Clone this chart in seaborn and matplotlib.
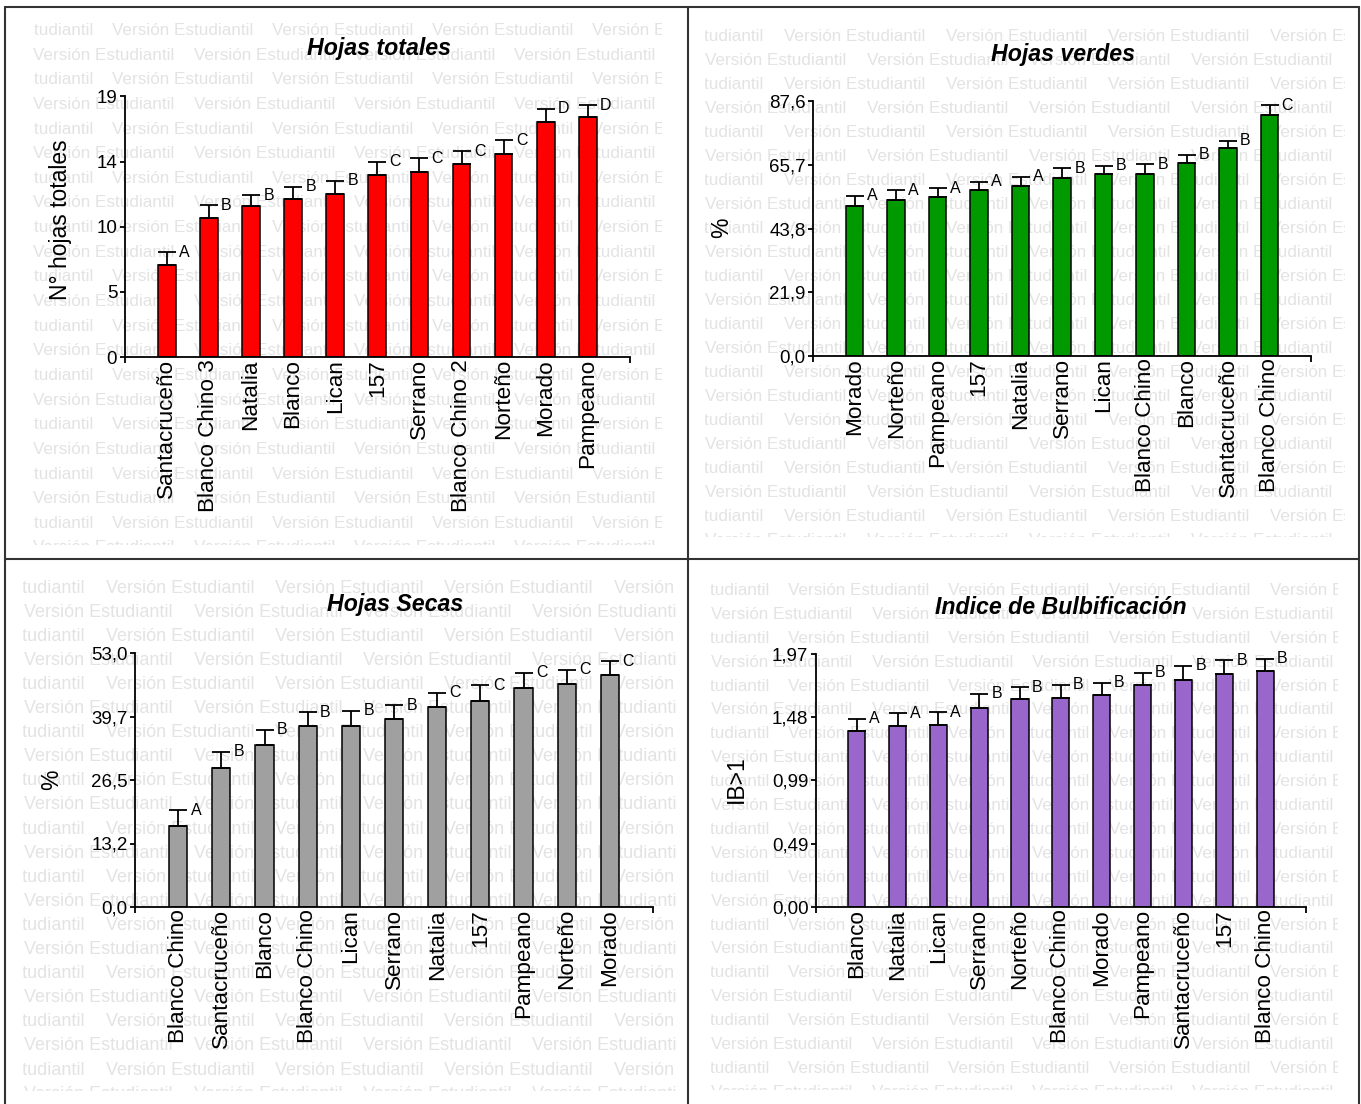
import numpy as np
import pandas as pd
import matplotlib
matplotlib.use("Agg")
import matplotlib.pyplot as plt
from matplotlib.lines import Line2D
import seaborn as sns

# ---------------------------------------------------------------- data
# Hojas totales (N° hojas)
tot_labels = ["Santacruceño", "Blanco Chino 3", "Natalia", "Blanco", "Lican", "157",
              "Serrano", "Blanco Chino 2", "Norteño", "Morado", "Pampeano"]
tot_mean = [6.7, 10.1, 11.0, 11.5, 11.9, 13.3, 13.5, 14.1, 14.8, 17.1, 17.5]
tot_se = [0.95, 0.95, 0.8, 0.9, 0.95, 0.95, 1.0, 0.9, 1.0, 1.0, 0.85]
tot_letters = ["A", "B", "B", "B", "B", "C", "C", "C", "C", "D", "D"]
tot_ticks = ["0", "5", "10", "14", "19"]
tot_ymax = 19.0

# Hojas verdes (%)
ver_labels = ["Morado", "Norteño", "Pampeano", "157", "Natalia", "Serrano", "Lican",
              "Blanco Chino", "Blanco", "Santacruceño", "Blanco Chino"]
ver_mean = [51.6, 53.7, 54.7, 57.1, 58.5, 61.0, 62.4, 62.4, 66.4, 71.3, 82.8]
ver_se = [3.5, 3.3, 3.0, 2.8, 3.0, 3.5, 3.0, 3.4, 2.8, 2.7, 3.4]
ver_letters = ["A", "A", "A", "A", "A", "B", "B", "B", "B", "B", "C"]
ver_ticks = ["0,0", "21,9", "43,8", "65,7", "87,6"]
ver_ymax = 87.6

# Hojas secas (%)
sec_labels = ["Blanco Chino", "Santacruceño", "Blanco", "Blanco Chino", "Lican", "Serrano",
              "Natalia", "157", "Pampeano", "Norteño", "Morado"]
sec_mean = [16.9, 29.1, 33.9, 37.7, 37.7, 39.2, 41.8, 43.0, 45.7, 46.6, 48.4]
sec_se = [3.3, 3.3, 3.1, 2.9, 3.2, 2.9, 2.9, 3.3, 3.2, 2.9, 2.9]
sec_letters = ["A", "B", "B", "B", "B", "B", "C", "C", "C", "C", "C"]
sec_ticks = ["0,0", "13,2", "26,5", "39,7", "53,0"]
sec_ymax = 53.0

# Indice de bulbificación (IB>1)
ib_labels = ["Blanco", "Natalia", "Lican", "Serrano", "Norteño", "Blanco Chino", "Morado",
             "Pampeano", "Santacruceño", "157", "Blanco Chino"]
ib_mean = [1.365, 1.409, 1.417, 1.549, 1.616, 1.627, 1.651, 1.724, 1.767, 1.813, 1.835]
ib_se = [0.098, 0.097, 0.099, 0.111, 0.095, 0.100, 0.095, 0.097, 0.111, 0.108, 0.094]
ib_letters = ["A", "A", "A", "B", "B", "B", "B", "B", "B", "B", "B"]
ib_ticks = ["0,00", "0,49", "0,99", "1,48", "1,97"]
ib_ymax = 1.97

# ---------------------------------------------------------------- style
sns.set_theme(style="ticks")
FONT = ["Liberation Sans", "DejaVu Sans"]
plt.rcParams["font.family"] = FONT
plt.rcParams["axes.linewidth"] = 1.3

W, H = 1361, 1104
fig = plt.figure(figsize=(W / 100, H / 100), dpi=100, facecolor="white")


def fx(x):
    return x / W


def fy(y):
    return 1 - y / H


def rect(x0, x1, y_top, y_bot):
    return [fx(x0), fy(y_bot), fx(x1) - fx(x0), fy(y_top) - fy(y_bot)]


# ---------------------------------------------------------------- watermark
WM_TEXT = "Versión Estudiantil"
WM_COLOR = "#e3e3e3"


def watermark(x0, x1, y0, y1, row0, dy, start_even, start_odd, period, size):
    wax = fig.add_axes(rect(x0, x1, y0, y1), zorder=-5)
    wax.set_xlim(x0, x1)
    wax.set_ylim(y1, y0)
    wax.axis("off")
    wax.patch.set_visible(False)
    r = 0
    y = row0
    while y < y1 + dy:
        start = start_even if r % 2 == 0 else start_odd
        x = start
        while x < x1:
            wax.text(x, y, WM_TEXT, color=WM_COLOR, fontsize=size, ha="left",
                     va="center", clip_on=True, family=FONT)
            x += period
        r += 1
        y += dy


watermark(33, 662, 18, 545, 30.5, 24.64, 112 - 160, 33.5, 160, 12.3)
watermark(704.5, 1345, 22, 537, 36.5, 24.0, 784 - 162, 705, 162, 12.3)
watermark(23.5, 676, 575, 1091, 588, 24.1, 105.5 - 169.5, 24, 169.5, 13.0)
watermark(710.5, 1338, 578, 1090, 590.5, 23.9, 788 - 160.5, 711, 160.5, 12.3)

# ---------------------------------------------------------------- panels
panels = [
    dict(labels=tot_labels, mean=tot_mean, se=tot_se, letters=tot_letters,
         ticks=tot_ticks, ymax=tot_ymax, color="#ff0000", title="Hojas totales",
         ylabel="N° hojas totales", box=(124.6, 630, 96.4, 357),
         title_xy=(379, 48), ylab=(-0.127, 0.527)),
    dict(labels=ver_labels, mean=ver_mean, se=ver_se, letters=ver_letters,
         ticks=ver_ticks, ymax=ver_ymax, color="#009900", title="Hojas verdes",
         ylabel="%", box=(813.2, 1311, 101, 356),
         title_xy=(1063, 54), ylab=(-0.183, 0.502)),
    dict(labels=sec_labels, mean=sec_mean, se=sec_se, letters=sec_letters,
         ticks=sec_ticks, ymax=sec_ymax, color="#a0a0a0", title="Hojas Secas",
         ylabel="%", box=(135, 653, 653, 907),
         title_xy=(395, 605), ylab=(-0.161, 0.502)),
    dict(labels=ib_labels, mean=ib_mean, se=ib_se, letters=ib_letters,
         ticks=ib_ticks, ymax=ib_ymax, color="#9966cc", title="Indice de Bulbificación",
         ylabel="IB>1", box=(815.8, 1306, 653.7, 907),
         title_xy=(1061, 608), ylab=(-0.162, 0.505)),
]

BAR_W = 0.42
PT = 72 / 100  # points per pixel

for p in panels:
    x0, x1, yt, yb = p["box"]
    ax = fig.add_axes(rect(x0, x1, yt, yb), zorder=1)
    ax.patch.set_visible(False)
    n = len(p["mean"])
    pos = np.arange(n)
    df = pd.DataFrame({"pos": pos, "val": p["mean"]})
    sns.barplot(data=df, x="pos", y="val", color=p["color"], saturation=1,
                width=BAR_W, edgecolor="black", linewidth=1.1, errorbar=None, ax=ax)
    # one-sided (upper) error bars
    se = np.asarray(p["se"])
    ax.errorbar(pos, p["mean"], yerr=[np.zeros(n), se], fmt="none", ecolor="black",
                elinewidth=1.3, capsize=BAR_W / 2 * (x1 - x0) / 12 * PT, capthick=1.3,
                zorder=3, clip_on=False)
    for i, (m, s, letter) in enumerate(zip(p["mean"], se, p["letters"])):
        ax.annotate(letter, xy=(i + BAR_W / 2, m + s), xytext=(2.5, 0),
                    textcoords="offset points", ha="left", va="center",
                    fontsize=11.5, color="black", family=FONT)

    ax.set_xlim(-1, n)
    ax.set_ylim(0, p["ymax"])
    ax.set_yticks(np.linspace(0, p["ymax"], 5), labels=p["ticks"])
    ax.set_xticks(pos, labels=p["labels"], rotation=90)
    ax.set_xticks([-1, n], minor=True)
    ax.tick_params(axis="x", which="major", length=0, pad=1.5, labelsize=16.2,
                   colors="black")
    ax.tick_params(axis="x", which="minor", length=4.5, width=1.3, direction="out",
                   colors="black")
    ax.tick_params(axis="y", length=3.8, width=1.3, direction="out", pad=1.5,
                   labelsize=13.5, colors="black")
    for lbl in ax.get_xticklabels():
        lbl.set_va("top")
        lbl.set_ha("center")
    ax.set_xlabel("")
    ax.set_ylabel(p["ylabel"], fontsize=16.5, color="black", va="center")
    ax.yaxis.set_label_coords(*p["ylab"])
    sns.despine(ax=ax)
    for sp in ("left", "bottom"):
        ax.spines[sp].set_color("black")
        ax.spines[sp].set_linewidth(1.3)
    ax.grid(False)

    fig.text(fx(p["title_xy"][0]), fy(p["title_xy"][1]), p["title"], ha="center",
             va="center", fontsize=16.7, fontweight="bold", fontstyle="italic",
             color="black", family=FONT)

# ---------------------------------------------------------------- frame lines
frame = dict(color="#333333", linewidth=1.5, transform=fig.transFigure, zorder=10)
for xs, ys in [((5, 1359), (7, 7)), ((5, 5), (7, 1110)), ((1359, 1359), (7, 1110)),
               ((688, 688), (7, 1110)), ((5, 1359), (559.5, 559.5))]:
    fig.add_artist(Line2D([fx(v) for v in xs], [fy(v) for v in ys], **frame))

fig.savefig("out.png", dpi=100, facecolor="white")
